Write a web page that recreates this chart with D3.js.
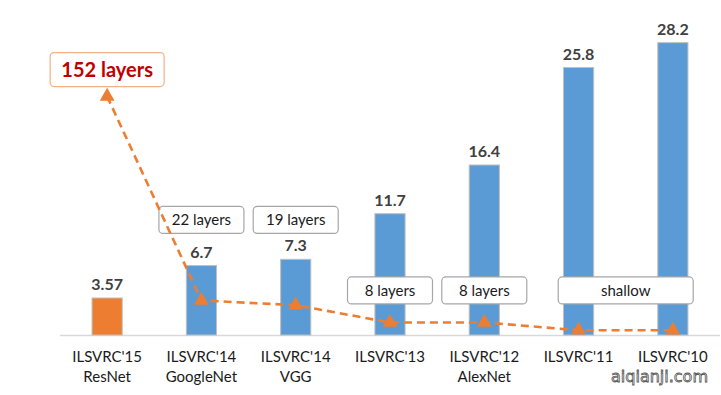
<!DOCTYPE html>
<html>
<head>
<meta charset="utf-8">
<script src="https://cdn.jsdelivr.net/npm/d3@7"></script>
<style>
body{margin:0;background:#fff;}
svg{display:block;font-family:Lato,"Open Sans",sans-serif;}
</style>
</head>
<body>
<svg id="chart" width="721" height="395"></svg>
<script>
//chart data-----------------------------------------------
var years=["ILSVRC'15","ILSVRC'14","ILSVRC'14","ILSVRC'13","ILSVRC'12","ILSVRC'11","ILSVRC'10"];
var nets=["ResNet","GoogleNet","VGG","","AlexNet","",""];
var errors=[3.57,6.7,7.3,11.7,16.4,25.8,28.2];
var labels=["3.57","6.7","7.3","11.7","16.4","25.8","28.2"];
var layers=[152,22,19,8,8,3,3];

//annotation boxes: text, first/last category index, height in error units
var noteText=["152 layers","22 layers","19 layers","8 layers","8 layers","shallow"];
var noteFrom=[0,1,2,3,4,5];
var noteTo=[0,1,2,3,4,6];
var noteAt=[25.6,11.1,11.1,4.3,4.3,4.3];

function drawChart(){
var svg=d3.select("#chart");

var x=d3.scaleBand()
	.domain(d3.range(years.length))
	.range([60,720])
	.paddingInner(0.68)
	.paddingOuter(0.34);

var y=d3.scaleLinear()
	.domain([0,30])
	.range([335,24]);

//second scale for the number of layers
var yl=d3.scaleLinear()
	.domain([0,200])
	.range([335,21]);

var cx=function(i){return x(i)+x.bandwidth()/2;};

//baseline
svg.append("line")
	.attr("x1",60).attr("x2",720)
	.attr("y1",y(0)+0.5).attr("y2",y(0)+0.5)
	.style("stroke","#d9d9d9")
	.style("stroke-width",1.5);

//bars
svg.selectAll("rect.bar")
	.data(errors)
	.enter()
	.append("rect")
	.attr("class","bar")
	.attr("x",function(d,i){return x(i);})
	.attr("y",function(d){return y(d);})
	.attr("width",x.bandwidth())
	.attr("height",function(d){return y(0)-y(d);})
	.style("fill",function(d,i){return i==0?"#ED7D31":"#5B9BD5";})
	.style("stroke","#bfbfbf")
	.style("stroke-width",1);

//value labels
svg.selectAll("text.val")
	.data(errors)
	.enter()
	.append("text")
	.attr("class","val")
	.attr("x",function(d,i){return cx(i);})
	.attr("y",function(d){return y(d)-8;})
	.attr("text-anchor","middle")
	.style("font-size","16px")
	.style("font-weight","bold")
	.style("fill","#404040")
	.text(function(d,i){return labels[i];});

//category labels
var cat=svg.selectAll("text.cat")
	.data(years)
	.enter()
	.append("text")
	.attr("class","cat")
	.attr("text-anchor","middle")
	.attr("x",function(d,i){return cx(i);})
	.attr("y",362)
	.style("font-size","15px")
	.style("fill","#1a1a1a");
cat.append("tspan")
	.attr("x",function(d,i){return cx(i);})
	.text(function(d){return d;});
cat.append("tspan")
	.attr("x",function(d,i){return cx(i);})
	.attr("dy",20)
	.text(function(d,i){return nets[i];});

//annotation boxes
var notes=svg.selectAll("g.note")
	.data(noteText)
	.enter()
	.append("g")
	.attr("class","note");
notes.append("rect")
	.attr("x",function(d,i){
		var a=cx(noteFrom[i]),b=cx(noteTo[i]);
		var w=i==0?114:(noteFrom[i]==noteTo[i]?85:135);
		return (a+b)/2-w/2;})
	.attr("y",function(d,i){return y(noteAt[i])-(i==0?17:13.5);})
	.attr("width",function(d,i){return i==0?114:(noteFrom[i]==noteTo[i]?85:135);})
	.attr("height",function(d,i){return i==0?34:27;})
	.attr("rx",4)
	.style("fill","#fff")
	.style("stroke",function(d,i){return i==0?"#F4B183":"#a6a6a6";})
	.style("stroke-width",1.2);
notes.append("text")
	.attr("x",function(d,i){return (cx(noteFrom[i])+cx(noteTo[i]))/2;})
	.attr("y",function(d,i){return y(noteAt[i])+(i==0?7:5.5);})
	.attr("text-anchor","middle")
	.style("font-size",function(d,i){return i==0?"20px":"15px";})
	.style("font-weight",function(d,i){return i==0?"bold":"normal";})
	.style("fill",function(d,i){return i==0?"#C00000":"#1a1a1a";})
	.text(function(d){return d;});

//layers line
var line=d3.line()
	.x(function(d,i){return cx(i);})
	.y(function(d){return yl(d);});
svg.append("path")
	.datum(layers)
	.attr("d",line)
	.style("fill","none")
	.style("stroke","#ED7D31")
	.style("stroke-width",2.6)
	.style("stroke-dasharray","8,5");

//triangle markers
svg.selectAll("path.tri")
	.data(layers)
	.enter()
	.append("path")
	.attr("class","tri")
	.attr("d",d3.symbol().type(d3.symbolTriangle).size(95))
	.attr("transform",function(d,i){return "translate("+cx(i)+","+yl(d)+")";})
	.style("fill","#ED7D31");

//watermark
svg.append("text")
	.attr("x",708)
	.attr("y",382)
	.attr("text-anchor","end")
	.style("font-family","'DejaVu Sans',sans-serif")
	.style("font-size","16px")
	.style("fill","#fff")
	.style("stroke","#555")
	.style("stroke-width",0.8)
	.text("aiqianji.com");
}

window.onload=drawChart;
</script>
</body>
</html>
